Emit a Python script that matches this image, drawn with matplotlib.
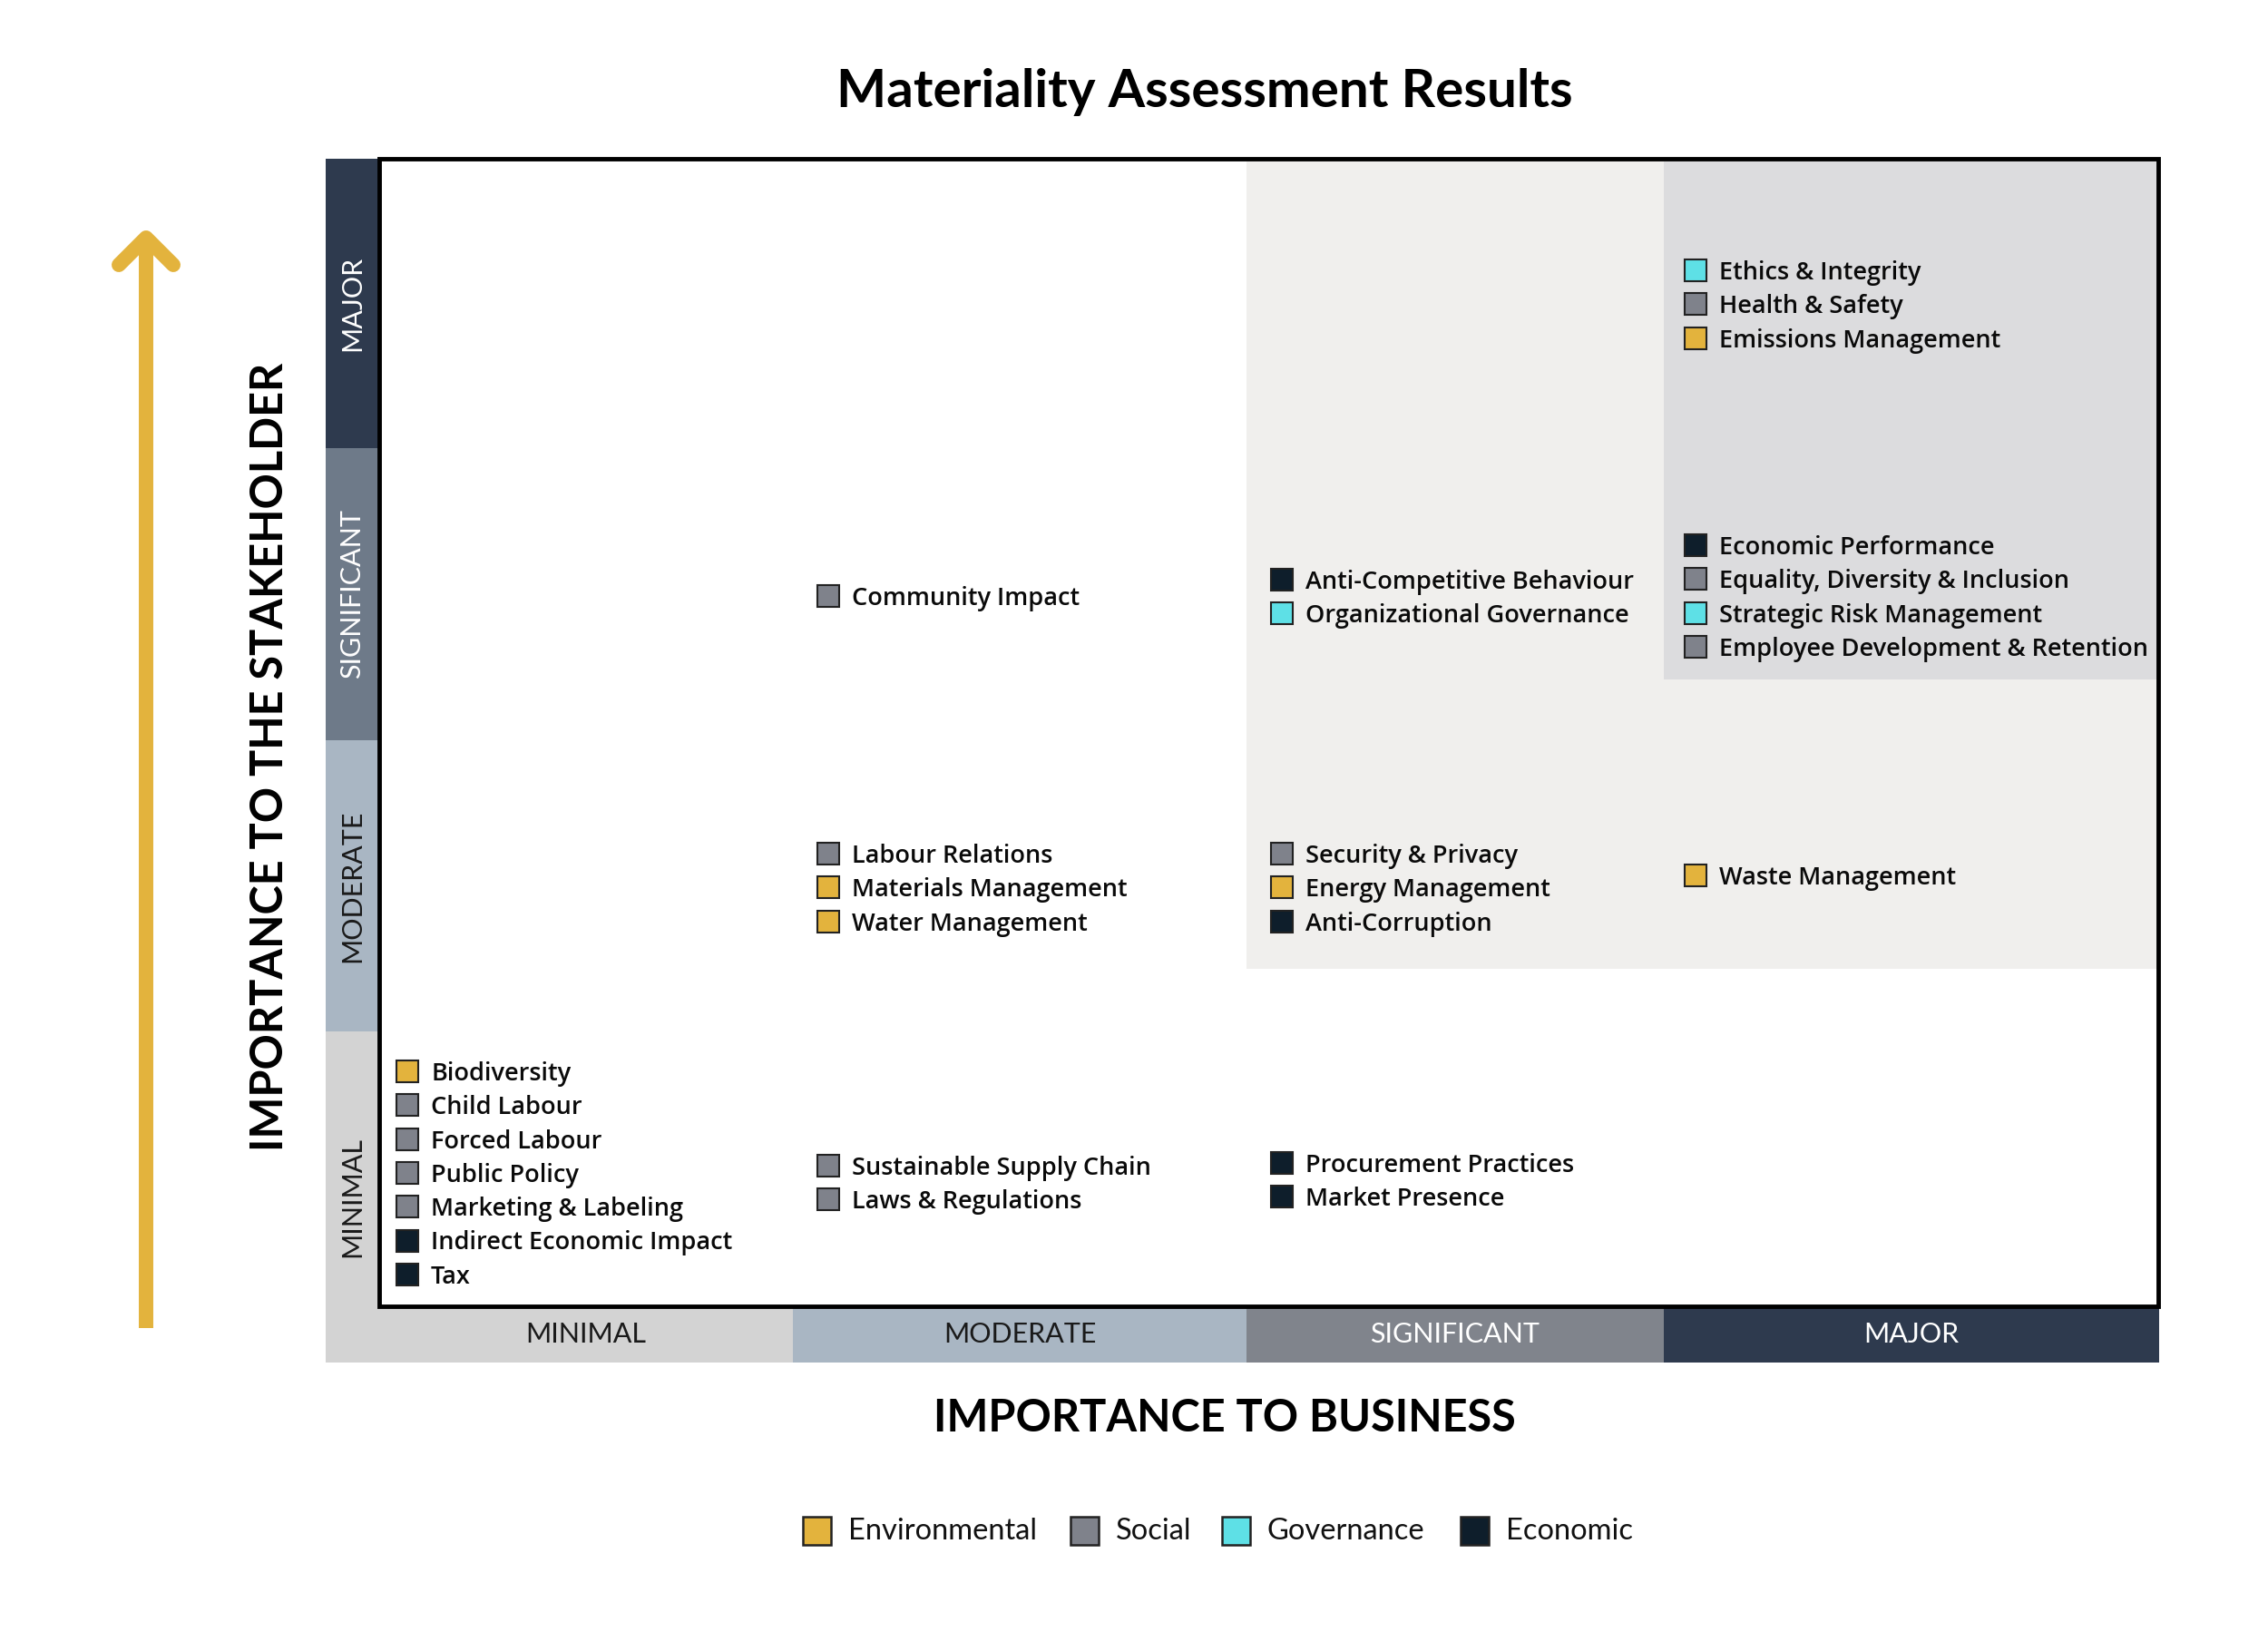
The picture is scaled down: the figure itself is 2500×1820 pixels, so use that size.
import matplotlib
matplotlib.use("Agg")
import matplotlib.pyplot as plt
from matplotlib.patches import Rectangle
from matplotlib.lines import Line2D

# ---------------- data ----------------
categories = ["Environmental", "Social", "Governance", "Economic"]
category_colors = ["#E3B33D", "#7F828B", "#5EE0E6", "#0E1E2B"]
levels = ["MINIMAL", "MODERATE", "SIGNIFICANT", "MAJOR"]

# level index: 0 minimal, 1 moderate, 2 significant, 3 major
topics = [
    "Ethics & Integrity", "Health & Safety", "Emissions Management",
    "Economic Performance", "Equality, Diversity & Inclusion",
    "Strategic Risk Management", "Employee Development & Retention",
    "Waste Management",
    "Anti-Competitive Behaviour", "Organizational Governance",
    "Security & Privacy", "Energy Management", "Anti-Corruption",
    "Procurement Practices", "Market Presence",
    "Community Impact",
    "Labour Relations", "Materials Management", "Water Management",
    "Sustainable Supply Chain", "Laws & Regulations",
    "Biodiversity", "Child Labour", "Forced Labour", "Public Policy",
    "Marketing & Labeling", "Indirect Economic Impact", "Tax",
]
topic_category = [
    "Governance", "Social", "Environmental",
    "Economic", "Social", "Governance", "Social",
    "Environmental",
    "Economic", "Governance",
    "Social", "Environmental", "Economic",
    "Economic", "Economic",
    "Social",
    "Social", "Environmental", "Environmental",
    "Social", "Social",
    "Environmental", "Social", "Social", "Social",
    "Social", "Economic", "Economic",
]
topic_business = [3, 3, 3, 3, 3, 3, 3, 3, 2, 2, 2, 2, 2, 2, 2,
                  1, 1, 1, 1, 1, 1, 0, 0, 0, 0, 0, 0, 0]
topic_stakeholder = [3, 3, 3, 2, 2, 2, 2, 1, 2, 2, 1, 1, 1, 0, 0,
                     2, 1, 1, 1, 0, 0, 0, 0, 0, 0, 0, 0, 0]

# ---------------- layout (pixel frame of the canvas) ----------------
W, H = 2500, 1820
box_l, box_r, box_t, box_b = 418, 2379, 175, 1440
band_w = 59           # width of the stakeholder band column
band_h = 62           # height of the business band row
x_bounds = [418, 874, 1374, 1834, 2380]      # business band edges
y_bounds = [1502, 1137, 816, 494, 175]       # stakeholder band edges (bottom->top)
band_colors = ["#D3D3D3", "#A9B6C3", "#6E7A89", "#2E3A4E"]
xband_colors = ["#D3D3D3", "#A9B6C3", "#80848C", "#2E3A4E"]
band_text = ["#1A1A1A", "#1A1A1A", "#FFFFFF", "#FFFFFF"]

col_square_x = [437, 901, 1401, 1857]        # left of markers per business level
first_row_y = {(3, 3): 301, (3, 2): 604, (3, 1): 968,
               (2, 2): 642, (2, 1): 944, (2, 0): 1285,
               (1, 2): 660, (1, 1): 944, (1, 0): 1288,
               (0, 0): 1184}
row_step = 37.3
sq = 24

fig = plt.figure(figsize=(25, 18.2), dpi=100)
ax = fig.add_axes([0, 0, 1, 1])
ax.set_xlim(0, W)
ax.set_ylim(H, 0)
ax.axis("off")

# highlighted regions
ax.add_patch(Rectangle((x_bounds[2], box_t), box_r - x_bounds[2], 1068 - box_t,
                       facecolor="#F0EFED", edgecolor="none", zorder=1))
ax.add_patch(Rectangle((x_bounds[3], box_t), box_r - x_bounds[3], 749 - box_t,
                       facecolor="#DCDCDE", edgecolor="none", zorder=2))

# stakeholder bands
for i, lv in enumerate(levels):
    y0 = y_bounds[i + 1]
    y1 = y_bounds[i]
    ax.add_patch(Rectangle((box_l - band_w, y0), band_w, y1 - y0,
                           facecolor=band_colors[i], edgecolor="none", zorder=1))
    ax.text(box_l - band_w / 2, (y0 + y1) / 2, lv, rotation=90, ha="center",
            va="center", fontsize=22, family="Lato", weight="normal",
            color=band_text[i], zorder=3)

# business bands
for i, lv in enumerate(levels):
    x0, x1 = x_bounds[i], x_bounds[i + 1]
    ax.add_patch(Rectangle((x0, box_b), x1 - x0, band_h,
                           facecolor=xband_colors[i], edgecolor="none", zorder=1))
    ax.text((x0 + x1) / 2, box_b + band_h / 2, lv, ha="center", va="center",
            fontsize=22, family="Lato", weight="normal", color=band_text[i], zorder=3)

# plot frame
ax.add_patch(Rectangle((box_l, box_t), box_r - box_l, box_b - box_t,
                       facecolor="none", edgecolor="black", linewidth=3.5, zorder=5))

# topics
counters = {}
for name, cat, b, s in zip(topics, topic_category, topic_business, topic_stakeholder):
    k = counters.get((b, s), 0)
    counters[(b, s)] = k + 1
    yc = first_row_y[(b, s)] + k * row_step
    xs = col_square_x[b]
    color = category_colors[categories.index(cat)]
    ax.add_patch(Rectangle((xs, yc - sq / 2 - 3), sq, sq, facecolor=color,
                           edgecolor="#222222", linewidth=1.5, zorder=4))
    ax.text(xs + 38, yc, name, ha="left", va="center", fontsize=19.5,
            family="Open Sans", weight="semibold", color="#0A0A0A", zorder=4)

# title & axis labels
ax.text(1328, 101, "Materiality Assessment Results", ha="center", va="center",
        fontsize=42, family="Lato", weight="bold", color="black")
ax.text(1350, 1564, "IMPORTANCE TO BUSINESS", ha="center", va="center",
        fontsize=35, family="Lato", weight="bold", color="black")
ax.text(298, 834, "IMPORTANCE TO THE STAKEHOLDER", ha="center", va="center",
        rotation=90, fontsize=35, family="Lato", weight="bold", color="black")

# arrow
gold = "#E3B33D"
ax.add_line(Line2D([161, 161], [1464, 266], color=gold, linewidth=11.5,
                   solid_capstyle="butt", zorder=3))
ax.add_line(Line2D([131, 161, 191], [292, 262, 292], color=gold, linewidth=11.5,
                   solid_capstyle="round", solid_joinstyle="round", zorder=3))

# legend
leg_sq_x = [885, 1180, 1347, 1610]
for cat, color, xs in zip(categories, category_colors, leg_sq_x):
    ax.add_patch(Rectangle((xs, 1672), 31, 31, facecolor=color,
                           edgecolor="#222222", linewidth=1.8, zorder=4))
    ax.text(xs + 50, 1688, cat, ha="left", va="center", fontsize=23.5,
            family="Lato", weight="normal", color="#111111")

fig.savefig("out.png", dpi=100, facecolor="white")
